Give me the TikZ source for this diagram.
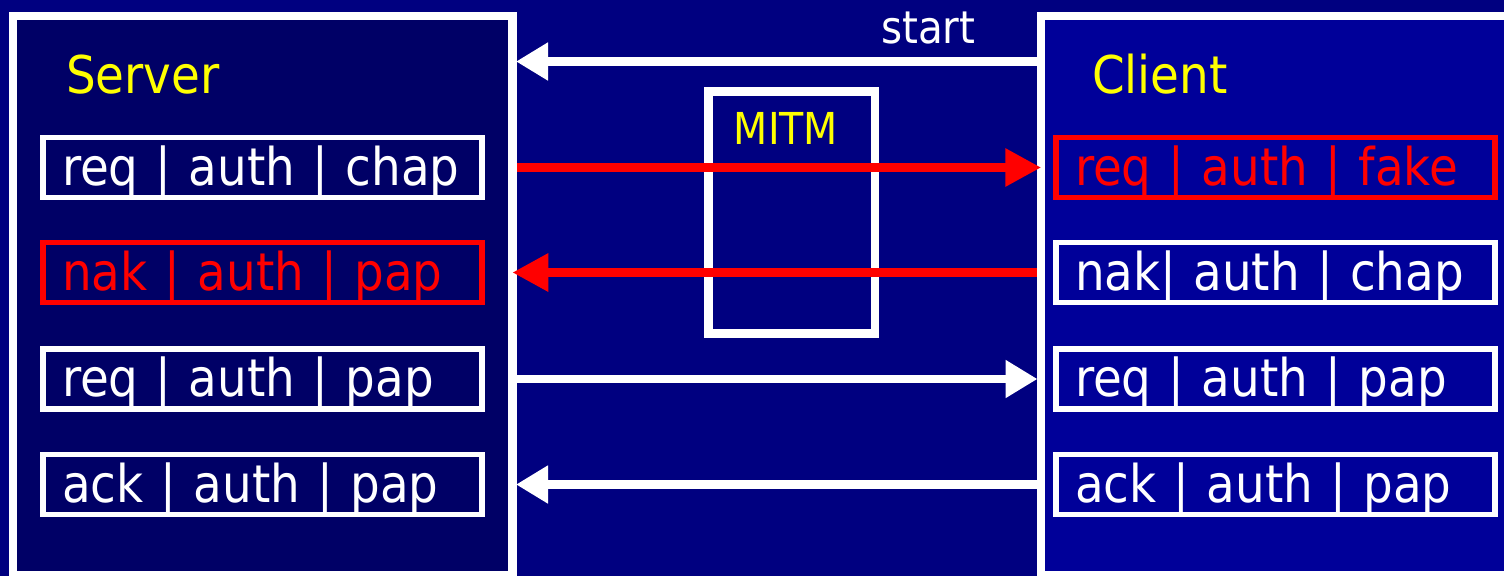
\documentclass[tikz,border=0pt]{standalone}
\usepackage{fontspec}
\setmainfont{DejaVu Sans Condensed}
\usepackage{xcolor}
\usepackage{tikz}
\usetikzlibrary{arrows.meta}
\definecolor{negBg}{HTML}{000080}
\definecolor{negServer}{HTML}{000066}
\definecolor{negClient}{HTML}{000099}
\definecolor{negAlert}{HTML}{FF0000}
\definecolor{negTitle}{HTML}{FFFF00}
\tikzset{
  neg diagram/.style={x=1pt, y=-1pt, text=white, line join=miter},
  neg panel/.style={draw=white, line width=8.5pt, inner sep=0pt},
  neg msg/.style={draw=white, line width=5.5pt, minimum width=439pt,
    minimum height=60pt, inner xsep=19pt, inner ysep=0pt, text width=401pt,
    align=left, text height=35pt, text depth=0pt,
    font=\fontsize{52}{60}\selectfont},
  neg fake msg/.style={neg msg, draw=negAlert, text=negAlert},
  neg title/.style={font=\fontsize{52}{60}\selectfont, text=negTitle,
    anchor=base west, inner sep=0pt},
  neg label/.style={font=\fontsize{45}{50}\selectfont, anchor=base west,
    inner sep=0pt},
  neg flow/.style={-{Triangle[length=32pt,width=36pt]}, draw=white,
    line width=8.4pt, shorten >=-0.75pt},
  neg attack/.style={-{Triangle[length=36pt,width=36pt]}, draw=negAlert,
    line width=9pt, shorten >=-4.5pt}
}
\begin{document}
\begin{tikzpicture}[neg diagram]
\useasboundingbox (0,0) rectangle (1504,576);
\clip (0,0) rectangle (1504,576);
\fill[negBg] (0,0) rectangle (1504,576);
% both ends of the link
\node[neg panel, fill=negServer, minimum width=499.5pt, minimum height=559pt] (server) at (262.75,295.5) {};
\node[neg panel, fill=negClient, minimum width=479pt, minimum height=559pt] (client) at (1280.5,295.5) {};
\node[neg title] (srvname) at (66,93) {Server};
\node[neg title] (cliname) at (1092,93) {Client};
% attacker sitting in the middle
\node[neg panel, minimum width=166.5pt, minimum height=242pt] (mitm) at (791.75,212.5) {};
\node[neg title, font=\fontsize{44}{50}\selectfont, anchor=base] (mitmname) at (786,144) {MITM};
% packets
\node[neg msg] (srv1) at (262.5,167.5) {req | auth | chap};
\node[neg fake msg] (srv2) at (262.5,272.5) {nak | auth | pap};
\node[neg msg] (srv3) at (262.5,379) {req | auth | pap};
\node[neg msg] (srv4) at (262.5,484.5) {ack | auth | pap};
\node[neg fake msg] (cli1) at (1275.5,167.5) {req | auth | fake};
\node[neg msg] (cli2) at (1275.5,272.5) {nak| auth | chap};
\node[neg msg] (cli3) at (1275.5,379) {req | auth | pap};
\node[neg msg] (cli4) at (1275.5,484.5) {ack | auth | pap};
% exchange
\coordinate (startrow) at (780,61.5);
\node[neg label] (startname) at (881,43.3) {start};
\draw[neg flow] (startrow -| client.west) -- (startrow -| server.east);
\draw[neg attack] (srv1 -| server.east) -- (cli1 -| client.west);
\draw[neg attack] (cli2 -| client.west) -- (srv2 -| server.east);
\draw[neg flow] (srv3 -| server.east) -- (cli3 -| client.west);
\draw[neg flow] (cli4 -| client.west) -- (srv4 -| server.east);
\end{tikzpicture}
\end{document}
